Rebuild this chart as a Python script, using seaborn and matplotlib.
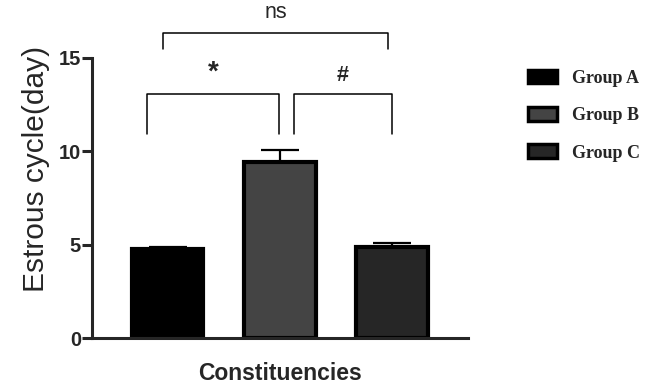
import matplotlib
matplotlib.use("Agg")
import matplotlib.pyplot as plt
import seaborn as sns
import pandas as pd
from matplotlib.patches import Patch

groups = ["Group A", "Group B", "Group C"]
means = [4.75, 9.45, 4.85]
errors = [0.13, 0.6, 0.25]
face_colors = ["#000000", "#444444", "#262626"]
yticks = [0, 5, 10, 15]

sns.set_style("ticks")
plt.rcParams["font.family"] = ["Liberation Sans", "DejaVu Sans"]

df = pd.DataFrame({"group": groups, "value": means})

fig = plt.figure(figsize=(6.49, 3.86), dpi=100)
ax = fig.add_axes([92 / 649, 48 / 386, (468 - 92) / 649, 338 / 386])

sns.barplot(data=df, x="group", y="value", hue="group", palette=face_colors,
            order=groups, hue_order=groups, width=0.64, linewidth=3,
            edgecolor="black", errorbar=None, legend=False, ax=ax, zorder=2)
ax.errorbar(range(len(groups)), means, yerr=[[0] * len(groups), errors],
            fmt="none", ecolor="black", elinewidth=1.6, capsize=13.5,
            capthick=1.6, zorder=1)

ax.set_xlim(-0.674, 2.68)
ax.set_ylim(0, 18.1)
ax.spines["left"].set_bounds(0, 15)
ax.spines["right"].set_visible(False)
ax.spines["top"].set_visible(False)
for s in ["left", "bottom"]:
    ax.spines[s].set_linewidth(2.2)
ax.set_yticks(yticks)
ax.set_yticklabels([str(t) for t in yticks], fontsize=14.5, fontweight="bold")
ax.tick_params(axis="y", width=2.2, length=7, pad=1)
ax.set_xticks([])
ax.set_xlabel("Constituencies", fontsize=16.5, fontweight="bold", labelpad=17)
ax.set_ylabel("Estrous cycle(day)", fontsize=21.5, labelpad=6)

# significance brackets
def bracket(x1, x2, y, h, text, ty, fs, fw):
    ax.plot([x1, x1, x2, x2], [y - h, y, y, y - h], color="black", lw=1.1,
            clip_on=False)
    ax.text((x1 + x2) / 2, ty, text, ha="center", va="center", fontsize=fs,
            fontweight=fw)

bracket(-0.04, 1.97, 16.35, 0.85, "ns", 17.45, 15.5, "normal")
bracket(-0.18, 0.99, 13.05, 2.1, "*", 14.2, 20, "bold")
bracket(1.13, 2.0, 13.05, 2.1, "#", 14.05, 15.5, "bold")

handles = [Patch(facecolor=c, edgecolor="black", linewidth=2.5) for c in face_colors]
leg = fig.legend(handles, groups, loc="upper left",
                 bbox_to_anchor=(515 / 649, 1 - 57 / 386), frameon=False,
                 prop={"family": "Liberation Serif", "weight": "bold", "size": 13},
                 handlelength=1.65, handleheight=0.8, labelspacing=1.12,
                 handletextpad=0.8, borderpad=0.2)

fig.savefig("out.png", dpi=100)
